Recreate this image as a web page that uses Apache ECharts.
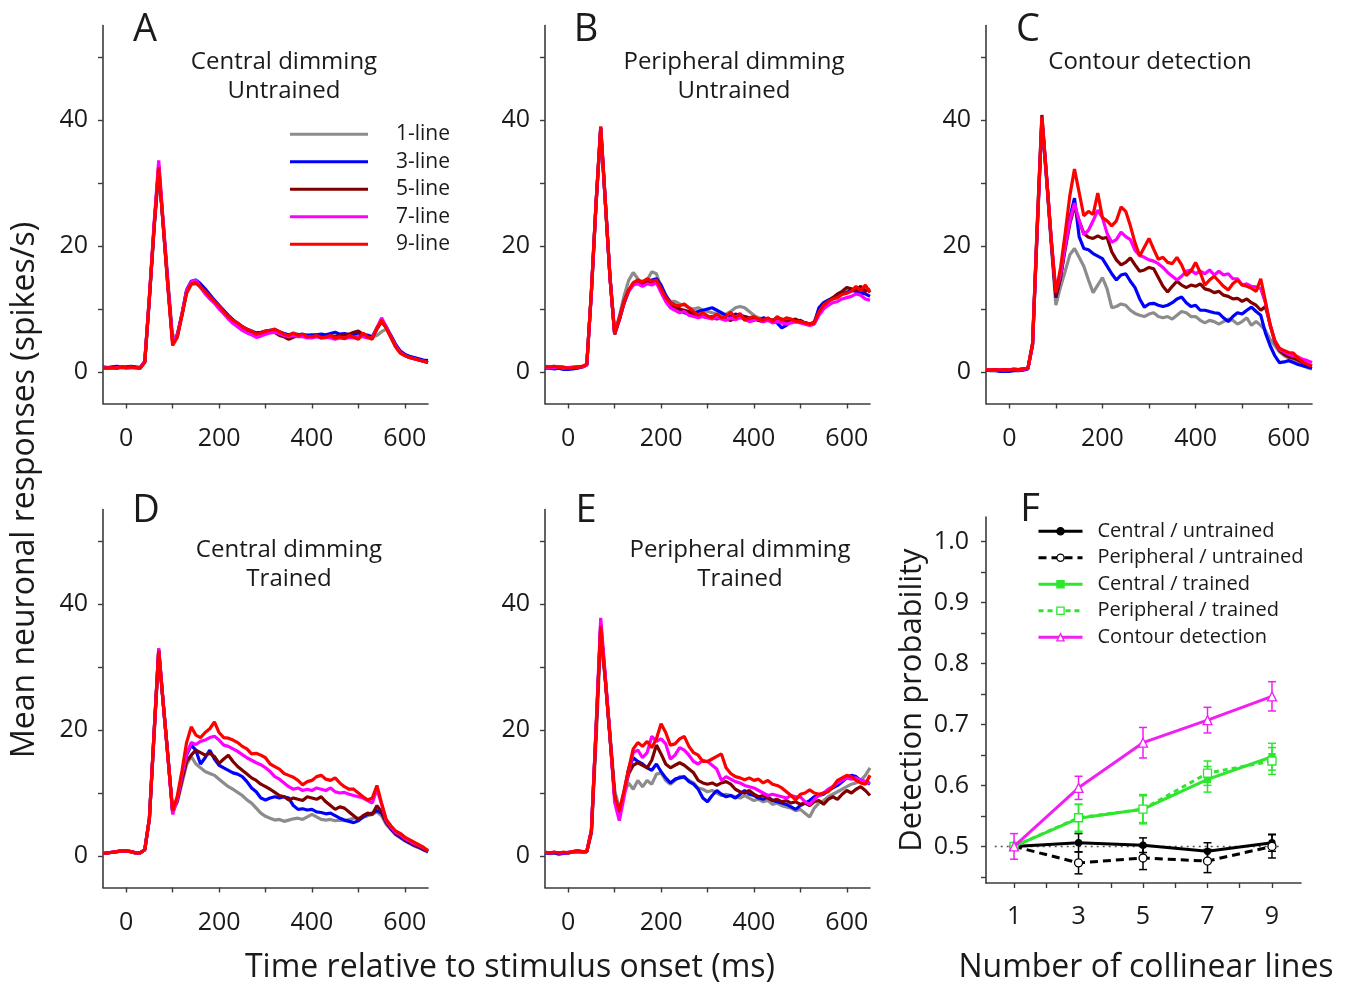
<!DOCTYPE html>
<html><head><meta charset="utf-8">
<script src="https://cdn.jsdelivr.net/npm/echarts@6/dist/echarts.min.js"></script>
<style>html,body{margin:0;padding:0;background:#fff}#chart{width:1347px;height:985px}</style>
</head><body><div id="chart"></div><script>
// ---------- DATA ----------
const TIME_MS = [-50,-40,-30,-20,-10,0,10,20,30,40,50,60,70,80,90,100,110,120,130,140,150,160,170,180,190,200,210,220,230,240,250,260,270,280,290,300,310,320,330,340,350,360,370,380,390,400,410,420,430,440,450,460,470,480,490,500,510,520,530,540,550,560,570,580,590,600,610,620,630,640,650];
const LINE_NAMES = ['1-line','3-line','5-line','7-line','9-line'];

// Panel A: Central dimming, untrained
const A_1 = [0.7,0.6,0.7,0.7,0.8,0.7,0.8,0.7,0.7,1.8, 11.5,22.5,31.5,23.5,14.5,5.5,6.0,9.0,12.5,13.8, 14.0,13.6,13.0,12.2,11.3,10.5,9.6,8.9,8.2,7.6, 7.2,6.8,6.4,6.1,6.2,6.4,6.6,6.5,6.2,6.0, 5.9,6.1,6.0,5.8,5.9,5.7,5.9,5.6,5.6,5.8, 5.7,5.8,5.6,5.9,5.8,5.6,5.8,5.9,5.6,5.8, 6.4,6.8,5.8,4.4,3.4,2.8,2.4,2.2,2.0,1.8, 1.6];
const A_3 = [0.8,0.7,0.8,0.9,0.7,0.8,0.9,0.8,0.7,1.6, 11.8,23.0,32.5,23.0,13.5,4.8,5.8,9.2,13.0,14.4, 14.6,14.0,13.2,12.3,11.4,10.6,9.8,9.0,8.3,7.7, 7.2,6.8,6.5,6.2,6.3,6.5,6.6,6.7,6.4,6.1, 5.9,6.0,5.9,6.0,5.8,5.9,5.9,6.0,5.9,6.1, 6.3,6.0,6.1,5.9,6.0,6.2,6.0,5.8,5.6,7.0, 8.0,7.2,5.8,4.4,3.3,2.8,2.5,2.3,2.1,1.9, 1.8];
const A_5 = [0.7,0.7,0.7,0.6,0.8,0.7,0.7,0.7,0.6,1.6, 11.8,23.0,32.8,23.0,13.5,4.6,5.6,9.0,12.8,14.0, 14.2,13.5,12.6,11.8,11.0,10.2,9.3,8.6,7.9,7.2, 6.8,6.4,6.2,6.0,6.2,6.4,6.5,6.3,5.8,5.6, 5.2,5.5,5.8,5.7,5.6,5.5,5.7,5.5,5.6,5.7, 5.6,5.8,5.9,6.0,6.3,6.5,6.0,5.6,5.4,6.8, 8.0,7.0,5.5,4.1,3.2,2.6,2.3,2.1,1.9,1.7, 1.5];
const A_7 = [0.7,0.6,0.6,0.7,0.7,0.6,0.7,0.7,0.6,1.7, 12.2,23.5,33.6,23.5,13.8,4.8,5.8,9.2,12.9,14.3, 14.6,13.4,12.4,11.6,10.9,10.0,9.3,8.4,7.7,7.2, 6.6,6.2,5.9,5.5,5.7,6.0,6.2,6.3,6.1,5.8, 5.6,5.8,5.6,5.6,5.4,5.4,5.6,5.4,5.5,5.4, 5.2,5.4,5.3,5.5,5.4,5.6,5.6,5.4,5.4,7.0, 8.6,7.2,5.6,4.2,3.1,2.6,2.3,2.1,1.9,1.7, 1.5];
const A_9 = [0.6,0.6,0.7,0.6,0.8,0.7,0.8,0.7,0.6,1.5, 12.0,23.0,32.5,23.0,13.2,4.2,5.5,9.0,12.5,14.0, 14.2,13.5,12.8,12.0,11.2,10.5,9.6,8.8,8.2,7.8, 7.2,6.8,6.5,6.0,6.2,6.5,6.6,6.8,6.4,6.0, 5.8,6.2,5.8,6.0,5.6,5.6,5.8,5.4,5.5,5.8, 5.4,5.6,5.3,5.8,5.5,5.2,6.2,5.5,5.2,7.0, 8.2,7.0,5.5,4.0,3.0,2.6,2.3,2.1,1.9,1.7, 1.5];

// Panel B: Peripheral dimming, untrained
const B_1 = [0.8,0.8,0.9,0.8,0.7,0.7,0.8,0.8,0.8,1.1, 12.5,26.5,38.2,26.8,15.0,6.2,8.8,12.0,14.5,15.8, 14.8,14.0,14.6,15.9,15.6,13.4,12.0,11.2,11.2,10.8, 10.6,10.2,10.0,10.2,9.8,9.6,9.4,9.2,9.0,9.2, 9.6,10.2,10.4,10.2,9.6,9.0,8.6,8.4,8.2,8.2, 8.4,8.0,8.2,8.0,8.2,8.0,7.8,7.6,8.0,9.8, 10.8,11.4,11.6,12.0,12.6,12.8,13.0,13.2,12.8,13.2, 12.8];
const B_3 = [0.6,0.6,0.5,0.6,0.4,0.4,0.5,0.6,0.8,1.1, 12.8,26.8,38.8,27.0,15.0,6.0,8.2,10.8,12.8,14.0, 14.2,14.4,14.2,14.6,14.8,13.8,12.2,11.0,10.6,10.0, 9.4,9.2,9.4,9.6,9.8,10.0,10.2,9.8,9.4,9.0, 8.8,9.2,9.0,8.8,8.6,8.4,8.2,8.6,8.4,8.2, 7.8,7.0,7.4,8.2,8.0,8.2,7.8,7.6,7.8,10.2, 11.0,11.4,11.8,12.0,12.4,12.6,13.0,12.8,12.6,12.4, 12.0];
const B_5 = [0.8,0.7,0.8,0.8,0.7,0.6,0.7,0.7,0.8,1.2, 12.8,26.8,38.8,26.8,15.0,6.0,8.6,11.2,13.0,13.8, 14.2,14.0,14.2,14.0,14.2,13.0,11.4,10.4,10.2,10.0, 9.8,9.6,9.2,9.0,8.8,8.6,8.8,8.4,8.6,8.4, 8.2,8.6,8.8,8.8,8.4,8.6,8.2,8.0,8.4,8.2, 8.6,8.4,8.0,8.2,8.4,8.0,7.8,7.6,7.8,9.6, 10.6,11.2,11.8,12.4,12.8,13.4,13.2,13.0,13.6,12.8, 13.2];
const B_7 = [0.8,0.7,0.7,0.8,0.6,0.7,0.7,0.8,0.8,1.1, 12.8,26.8,38.8,27.0,15.0,6.2,8.4,11.0,12.8,13.8, 14.0,13.6,14.0,13.8,14.2,12.6,11.2,10.2,9.8,9.4, 9.6,9.0,8.8,8.6,8.8,8.6,8.4,8.6,8.4,8.2, 8.6,8.3,8.6,8.4,8.0,8.2,8.4,8.0,8.2,7.8, 8.0,7.8,7.6,7.8,8.0,7.8,7.6,7.4,7.6,9.0, 10.0,10.6,11.0,11.2,11.6,11.8,12.0,12.4,12.2,11.6, 11.4];
const B_9 = [0.9,0.8,0.9,0.7,0.8,0.6,0.7,0.8,0.9,1.2, 13.0,27.0,39.0,27.0,15.0,6.0,8.3,11.0,13.0,14.2, 14.6,14.3,14.8,14.4,14.6,13.2,11.8,11.0,10.6,10.5, 10.8,10.2,9.6,9.0,9.4,8.9,8.6,9.2,8.6,8.8, 9.5,8.6,9.3,8.2,8.6,8.8,8.4,8.2,8.6,8.0, 8.8,8.2,8.6,8.4,8.0,8.0,7.8,7.6,7.8,9.5, 10.6,11.2,11.6,11.8,12.3,12.5,12.8,13.6,12.9,13.8, 12.6];

// Panel C: Contour detection
const C_1 = [0.4,0.3,0.4,0.3,0.3,0.3,0.4,0.4,0.5,0.6, 4.2,22.5,39.8,30.5,20.2,10.6,13.5,16.0,18.6,19.6, 18.2,16.8,14.6,12.6,13.8,15.0,13.2,10.2,10.4,10.8, 10.6,9.8,9.3,9.0,8.8,9.2,9.4,8.8,8.6,8.8, 8.4,9.0,9.6,9.4,8.8,8.8,8.2,7.8,8.2,8.0, 7.6,8.0,8.4,8.2,7.6,8.0,8.6,7.4,8.0,7.4, 6.6,5.2,4.2,3.2,2.6,2.2,1.8,1.4,1.0,0.7, 0.5];
const C_3 = [0.3,0.2,0.2,0.1,0.1,0.1,0.2,0.2,0.3,0.5, 4.3,22.5,40.0,30.8,20.8,11.8,15.0,20.0,24.5,27.6, 21.5,19.6,19.4,18.8,18.4,18.0,16.8,15.6,14.6,15.4, 15.6,14.4,13.4,11.6,10.3,10.8,10.9,10.6,10.4,10.6, 11.0,11.6,11.9,11.0,10.4,10.6,9.8,9.8,9.6,9.4, 9.3,8.6,8.0,8.8,9.4,9.2,9.8,10.3,9.6,9.0, 6.2,4.2,2.6,1.5,1.6,1.8,1.5,1.2,1.0,0.8, 0.6];
const C_5 = [0.4,0.3,0.4,0.3,0.4,0.3,0.4,0.4,0.5,0.6, 4.6,23.5,40.8,31.2,21.0,12.0,15.0,19.5,23.5,26.3, 24.0,22.0,21.4,21.2,21.6,21.2,21.4,19.1,17.8,17.0, 17.4,18.1,17.0,16.0,16.2,16.6,16.4,15.0,13.6,12.7, 13.6,14.4,13.8,13.4,13.8,13.6,14.0,13.2,13.0,12.6, 12.8,12.2,12.0,11.6,11.7,11.2,11.6,11.0,10.6,9.8, 10.4,7.6,4.8,3.4,2.8,2.4,2.2,1.9,1.5,1.2, 1.0];
const C_7 = [0.4,0.3,0.3,0.4,0.3,0.4,0.4,0.3,0.4,0.6, 4.4,23.0,40.2,31.0,21.2,12.8,15.5,20.0,24.0,26.8, 24.0,21.8,22.5,24.0,25.7,24.5,22.0,20.6,21.0,22.2, 21.5,21.0,19.3,18.5,18.2,17.8,17.6,17.2,16.6,15.8, 15.2,14.6,15.2,16.0,16.2,15.6,16.0,15.6,16.2,15.4, 16.0,15.4,15.6,14.8,14.8,13.8,14.0,13.6,13.5,13.2, 11.0,7.4,5.0,3.6,3.2,2.8,2.6,2.4,2.0,1.8, 1.5];
const C_9 = [0.4,0.3,0.4,0.3,0.4,0.3,0.5,0.4,0.5,0.6, 4.5,23.0,40.5,31.0,21.0,12.6,16.5,22.0,28.0,32.2, 28.5,24.8,25.5,25.0,28.4,24.5,24.0,23.2,24.0,26.2, 25.5,23.2,20.5,18.4,19.8,21.2,19.5,17.9,18.2,17.4, 17.2,18.2,17.0,15.3,16.0,17.4,15.8,13.8,14.6,15.2, 14.4,13.6,13.0,14.0,14.6,13.8,13.6,13.3,12.8,14.8, 11.2,7.5,5.0,3.8,3.4,3.1,3.0,2.2,1.6,1.2, 1.0];

// Panel D: Central dimming, trained
const D_1 = [0.4,0.5,0.6,0.7,0.8,0.8,0.7,0.5,0.5,1.0, 6.0,19.0,32.0,24.0,15.5,7.2,8.5,11.5,14.5,15.8, 14.6,14.0,13.4,13.1,12.8,12.2,11.6,11.0,10.6,10.1, 9.6,8.9,8.4,7.6,6.8,6.3,6.0,5.7,5.8,5.5, 5.7,5.9,6.0,5.8,6.2,6.6,6.2,5.8,5.7,5.8, 5.6,5.7,5.6,5.8,6.0,6.0,6.1,6.4,6.6,7.0, 6.4,5.0,4.2,3.4,2.9,2.4,2.0,1.6,1.3,1.0, 0.6];
const D_3 = [0.4,0.5,0.6,0.7,0.8,0.8,0.7,0.5,0.5,1.0, 6.0,19.5,32.8,24.0,15.8,7.0,9.0,12.5,16.0,17.6, 16.8,14.6,15.6,16.8,15.4,14.4,14.0,13.6,13.2,13.0, 12.6,11.8,10.8,10.2,9.2,8.9,9.2,9.4,9.2,9.4, 9.2,8.0,7.4,7.5,7.3,7.4,7.0,6.9,6.7,6.8, 6.4,6.0,5.7,5.5,5.3,5.6,6.2,6.6,6.8,7.2, 6.8,5.3,4.3,3.5,3.0,2.5,2.1,1.7,1.4,1.0, 0.7];
const D_5 = [0.4,0.5,0.6,0.7,0.8,0.8,0.7,0.5,0.5,1.0, 6.0,19.5,32.6,24.0,15.6,7.0,8.8,12.0,15.0,16.0, 16.8,16.4,16.0,16.3,15.8,14.7,15.4,16.0,15.0,14.2, 13.6,13.0,12.4,12.0,11.4,11.0,10.6,10.1,9.6,9.4, 8.9,9.2,9.0,8.8,9.4,9.2,9.0,9.4,8.6,8.0, 7.4,7.8,7.6,7.0,6.4,5.8,6.4,6.8,6.6,8.0, 7.0,5.4,4.4,3.6,3.2,2.6,2.2,1.8,1.5,1.1, 0.8];
const D_7 = [0.4,0.5,0.6,0.7,0.8,0.8,0.7,0.5,0.5,1.0, 6.0,19.5,33.0,24.0,15.5,6.6,9.0,12.8,16.2,18.0, 17.7,18.2,18.4,18.8,19.0,18.4,17.6,17.4,17.0,16.6, 16.1,15.6,15.2,14.8,14.5,14.0,13.4,12.6,12.2,11.6, 11.0,10.6,10.8,10.4,10.6,10.4,10.8,10.6,10.4,10.8, 10.2,10.0,10.1,9.8,9.6,9.4,9.2,8.8,8.4,10.6, 8.2,5.6,4.6,3.8,3.4,2.8,2.4,2.0,1.7,1.3, 0.9];
const D_9 = [0.4,0.5,0.6,0.7,0.8,0.8,0.7,0.5,0.5,1.0, 6.0,19.5,32.6,24.0,15.6,7.2,9.5,13.5,18.0,20.5, 19.2,18.8,19.6,20.2,21.3,19.6,18.8,18.7,18.4,18.0, 17.4,17.0,16.2,16.3,16.0,15.6,14.6,14.2,13.8,13.1, 12.8,12.5,12.0,11.3,11.8,12.0,12.6,12.8,12.2,12.0, 12.4,11.6,11.0,10.6,10.6,10.0,9.4,8.9,9.2,11.2, 8.4,5.8,4.8,4.0,3.6,3.0,2.6,2.2,1.8,1.4, 0.8];

// Panel E: Peripheral dimming, trained
const E_1 = [0.6,0.5,0.6,0.5,0.5,0.6,0.7,0.8,0.7,0.7, 3.5,18.0,34.5,28.0,19.5,10.5,7.5,9.8,11.6,10.6, 12.0,11.0,12.0,11.4,13.0,13.2,12.0,11.4,12.0,12.6, 12.4,12.0,11.6,10.8,10.6,10.2,10.4,10.0,9.6,9.8, 9.6,9.4,9.2,9.6,9.2,8.8,9.0,8.6,8.8,8.2, 8.4,8.0,7.8,7.6,7.2,7.4,6.8,6.2,7.6,8.4, 8.8,9.4,9.8,10.2,10.6,11.0,11.4,11.6,12.0,12.8, 14.0];
const E_3 = [0.5,0.4,0.5,0.3,0.4,0.5,0.6,0.7,0.6,0.7, 4.0,20.0,36.8,28.0,18.8,9.5,6.2,10.0,13.8,15.6, 15.0,14.6,14.0,13.6,14.6,13.4,12.4,11.6,12.2,12.4, 12.6,11.8,11.4,10.6,9.2,8.6,9.6,10.4,9.8,9.4, 9.6,9.2,9.8,10.4,9.8,9.6,9.2,9.0,9.4,8.8, 8.6,8.4,8.2,7.8,7.4,8.0,8.4,8.8,9.4,9.6, 9.8,10.4,10.8,11.2,11.8,12.4,12.8,12.6,12.0,11.8, 11.4];
const E_5 = [0.6,0.5,0.6,0.5,0.6,0.5,0.7,0.8,0.7,0.7, 4.0,20.0,36.5,28.0,18.8,9.5,6.5,10.0,13.0,14.4, 14.8,14.4,14.0,15.2,17.6,16.2,14.6,14.0,14.4,14.8, 14.4,13.8,13.2,12.0,11.6,11.4,11.6,11.2,11.6,11.8, 11.4,10.6,10.2,10.0,10.4,9.8,9.4,9.6,9.2,8.8, 9.0,8.6,8.8,8.4,8.6,8.2,8.4,8.0,8.6,8.8, 8.2,9.0,9.4,9.0,9.8,10.4,10.0,10.6,11.0,10.4, 9.6];
const E_7 = [0.6,0.5,0.6,0.5,0.5,0.6,0.6,0.7,0.6,0.7, 4.2,20.5,37.8,28.5,19.0,8.5,5.6,9.2,13.5,16.4, 16.8,15.6,16.4,19.0,18.2,18.6,17.8,15.4,16.0,17.2, 16.8,16.0,15.0,14.6,15.2,15.0,14.4,13.8,12.0,12.6, 12.2,11.8,11.6,11.2,11.0,10.8,10.4,10.0,9.6,9.8, 9.6,9.4,9.2,9.6,9.4,9.4,8.6,8.2,9.0,9.6, 10.0,10.6,11.0,11.6,12.0,12.4,12.2,12.4,12.0,11.8, 11.6];
const E_9 = [0.6,0.5,0.6,0.5,0.6,0.5,0.7,0.8,0.7,0.7, 4.0,20.0,36.5,27.7,18.9,9.5,7.2,10.3,13.8,17.0, 18.0,17.4,18.2,17.2,18.6,21.0,19.6,17.6,17.8,18.6, 19.0,17.4,16.4,16.0,15.0,15.0,15.4,15.8,16.2,14.0, 13.1,12.6,12.4,12.1,12.4,12.0,12.2,11.6,12.0,11.4, 11.2,10.8,10.2,9.6,8.9,9.8,10.0,10.5,10.0,9.8, 10.0,10.2,11.0,12.0,12.4,12.8,12.6,12.0,11.6,11.4, 12.8];

// Panel F: detection probability
const LINE_COUNTS = [1,3,5,7,9];
const DP_CENTRAL_UNTRAINED = [0.500,0.506,0.502,0.492,0.506];
const DP_PERIPH_UNTRAINED  = [0.500,0.473,0.481,0.476,0.500];
const DP_CENTRAL_TRAINED   = [0.500,0.546,0.561,0.610,0.647];
const DP_PERIPH_TRAINED    = [0.500,0.547,0.561,0.620,0.640];
const DP_CONTOUR           = [0.500,0.596,0.670,0.707,0.746];
const SE_CENTRAL_UNTRAINED = [0,0.015,0.012,0.014,0.014];
const SE_PERIPH_UNTRAINED  = [0,0.018,0.019,0.019,0.019];
const SE_CENTRAL_TRAINED   = [0,0.023,0.024,0.021,0.022];
const SE_PERIPH_TRAINED    = [0,0.022,0.022,0.020,0.022];
const SE_CONTOUR           = [0.021,0.019,0.025,0.021,0.024];
const CHANCE_LEVEL = [[0.4,0.5],[9.3,0.5]];

// Tick labels
const TIME_TICKS = [0,100,200,300,400,500,600];
const TIME_LABELS = [0,200,400,600];
const RATE_TICKS = [0,10,20,30,40,50];
const RATE_LABELS = [0,20,40];
const N_TICKS = [1,2,3,4,5,6,7,8,9];
const N_LABELS = [1,3,5,7,9];
const DP_TICKS = [0.45,0.5,0.55,0.6,0.65,0.7,0.75,0.8,0.85,0.9,0.95,1.0];
const DP_LABELS = [0.5,0.6,0.7,0.8,0.9,1.0];

// ---------- STYLE / LAYOUT ----------
const FONT = '"Open Sans", "DejaVu Sans", sans-serif';
const AX = '#3c3c3c';
const TX = '#1a1a1a';
const LINE_COLORS = ['#8c8c8c','#0000ff','#800000','#ff00ff','#ff0000'];
const GREEN = '#2ee62e', MAGENTA = '#f020f0';

const PANELS = [
  {grid:{left:103, top:25.5, width:325, height:378}, series:[A_1,A_3,A_5,A_7,A_9]},
  {grid:{left:545, top:25.5, width:325, height:378}, series:[B_1,B_3,B_5,B_7,B_9]},
  {grid:{left:986, top:25.5, width:326, height:378}, series:[C_1,C_3,C_5,C_7,C_9]},
  {grid:{left:103, top:509.5, width:325, height:378}, series:[D_1,D_3,D_5,D_7,D_9]},
  {grid:{left:545, top:509.5, width:325, height:378}, series:[E_1,E_3,E_5,E_7,E_9]}
];

function axisCommon(tickVals, labelVals, margin, fmt, pad){
  return {
    axisLine:{show:true, onZero:false, lineStyle:{color:AX, width:1.6}},
    axisTick:{show:true, inside:false, length:5, customValues:tickVals, lineStyle:{color:AX, width:1.4}},
    axisLabel:{show:true, customValues:labelVals, fontSize:25, fontFamily:FONT, color:TX, margin:margin, formatter:fmt, padding:pad || 0},
    splitLine:{show:false}
  };
}

const grids = [], xAxes = [], yAxes = [], series = [];
PANELS.forEach((p, i) => {
  grids.push(Object.assign({containLabel:false}, p.grid));
  xAxes.push(Object.assign({type:'value', gridIndex:i, min:-50, max:650}, axisCommon(TIME_TICKS, TIME_LABELS, 23, v => String(v))));
  yAxes.push(Object.assign({type:'value', gridIndex:i, min:-5, max:55}, axisCommon(RATE_TICKS, RATE_LABELS, 15, v => String(v), [7,0,0,0])));
  p.series.forEach((arr, k) => {
    series.push({
      type:'line', name:LINE_NAMES[k], xAxisIndex:i, yAxisIndex:i, silent:true,
      data: TIME_MS.map((t, j) => [t, arr[j]]),
      symbol:'none', lineStyle:{color:LINE_COLORS[k], width:3.2}, itemStyle:{color:LINE_COLORS[k]}, z:2+k
    });
  });
});

// Panel F
const FI = 5;
grids.push({left:986, top:517, width:315, height:366});
xAxes.push(Object.assign({type:'value', gridIndex:FI, min:0.13, max:9.9}, axisCommon(N_TICKS, N_LABELS, 21, v => String(v))));
yAxes.push(Object.assign({type:'value', gridIndex:FI, min:0.44, max:1.04}, axisCommon(DP_TICKS, DP_LABELS, 17, v => v.toFixed(1), [3,0,0,0])));

function errBars(vals, se, color){
  return {
    type:'custom', xAxisIndex:FI, yAxisIndex:FI, silent:true, z:3,
    data: LINE_COUNTS.map((n, j) => [n, vals[j] - se[j], vals[j] + se[j]]).filter((d, j) => se[j] > 0),
    encode:{x:0, y:[1,2]},
    renderItem:(params, api) => {
      const x = api.value(0);
      const lo = api.coord([x, api.value(1)]), hi = api.coord([x, api.value(2)]);
      const w = 4, st = {stroke:color, lineWidth:1.5};
      return {type:'group', children:[
        {type:'line', shape:{x1:lo[0], y1:lo[1], x2:hi[0], y2:hi[1]}, style:st},
        {type:'line', shape:{x1:hi[0]-w, y1:hi[1], x2:hi[0]+w, y2:hi[1]}, style:st},
        {type:'line', shape:{x1:lo[0]-w, y1:lo[1], x2:lo[0]+w, y2:lo[1]}, style:st}
      ]};
    }
  };
}
series.push({type:'line', xAxisIndex:FI, yAxisIndex:FI, silent:true, data:CHANCE_LEVEL, symbol:'none', lineStyle:{color:'#555', width:1.5, type:[2,4]}, z:1});
series.push(errBars(DP_PERIPH_UNTRAINED, SE_PERIPH_UNTRAINED, '#000'));
series.push(errBars(DP_CENTRAL_UNTRAINED, SE_CENTRAL_UNTRAINED, '#000'));
series.push(errBars(DP_PERIPH_TRAINED, SE_PERIPH_TRAINED, GREEN));
series.push(errBars(DP_CENTRAL_TRAINED, SE_CENTRAL_TRAINED, GREEN));
series.push(errBars(DP_CONTOUR, SE_CONTOUR, MAGENTA));

const F_SERIES = [
  {name:'Central / untrained', vals:DP_CENTRAL_UNTRAINED, color:'#000', dash:'solid', symbol:'circle', size:6, fill:'#000'},
  {name:'Peripheral / untrained', vals:DP_PERIPH_UNTRAINED, color:'#000', dash:[8,5], symbol:'circle', size:8, fill:'#fff'},
  {name:'Central / trained', vals:DP_CENTRAL_TRAINED, color:GREEN, dash:'solid', symbol:'rect', size:6, fill:GREEN},
  {name:'Peripheral / trained', vals:DP_PERIPH_TRAINED, color:GREEN, dash:[5,4], symbol:'rect', size:8, fill:'#fff'},
  {name:'Contour detection', vals:DP_CONTOUR, color:MAGENTA, dash:'solid', symbol:'triangle', size:9, fill:'#fff'}
];
F_SERIES.forEach((s, k) => {
  series.push({
    type:'line', name:s.name, xAxisIndex:FI, yAxisIndex:FI, silent:true, z:5+k,
    data: LINE_COUNTS.map((n, j) => [n, s.vals[j]]),
    symbol:s.symbol, symbolSize:s.size, showSymbol:true,
    lineStyle:{color:s.color, width:3, type:s.dash},
    itemStyle:{color:s.fill, borderColor:s.color, borderWidth:1.3}
  });
});

// ---------- TEXT ----------
function txt(text, x, y, size, rot){
  return {type:'text', x:x, y:y, rotation:rot || 0, silent:true,
    style:{text:text, font:size + 'px ' + FONT, fill:TX, textAlign:'center', textVerticalAlign:'middle'}};
}
const graphics = [
  txt('A', 145, 30, 38), txt('B', 586, 30, 38), txt('C', 1028, 30, 38),
  txt('D', 146, 511, 38), txt('E', 586, 511, 38), txt('F', 1030, 510, 38),
  txt('Central dimming', 284, 62, 24), txt('Untrained', 284, 91, 24),
  txt('Peripheral dimming', 734, 62, 24), txt('Untrained', 734, 91, 24),
  txt('Contour detection', 1150, 62, 24),
  txt('Central dimming', 289, 550, 24), txt('Trained', 289, 579, 24),
  txt('Peripheral dimming', 740, 550, 24), txt('Trained', 740, 579, 24),
  txt('Mean neuronal responses (spikes/s)', 25, 490, 32, Math.PI/2),
  txt('Time relative to stimulus onset (ms)', 510, 968, 32),
  txt('Number of collinear lines', 1146, 968, 32),
  txt('Detection probability', 912, 700, 31, Math.PI/2)
];

const option = {
  animation:false,
  backgroundColor:'#fff',
  grid:grids, xAxis:xAxes, yAxis:yAxes, series:series,
  legend:[
    {orient:'vertical', left:290, top:120.5, padding:0, itemGap:0, itemWidth:78, itemHeight:3, icon:'rect', selectedMode:false,
     textStyle:{fontSize:21, fontFamily:FONT, color:TX, lineHeight:27.5, padding:[0,0,0,23]},
     data: LINE_NAMES.map((n, k) => ({name:n, itemStyle:{color:LINE_COLORS[k], borderWidth:0}}))},
    {orient:'vertical', left:1037, top:518, padding:0, itemGap:0, itemWidth:44, itemHeight:9, selectedMode:false,
     textStyle:{fontSize:20, fontFamily:FONT, color:TX, lineHeight:26.5, padding:[0,0,0,10]},
     data: F_SERIES.map(s => ({name:s.name,
       itemStyle:{color:s.fill, borderColor:s.color, borderWidth:1.3},
       lineStyle:{color:s.color, width:3, type:s.dash}}))}
  ],
  graphic:graphics
};
const chart = echarts.init(document.getElementById('chart'), null, {renderer:'canvas'});
chart.setOption(option);
</script></body></html>
